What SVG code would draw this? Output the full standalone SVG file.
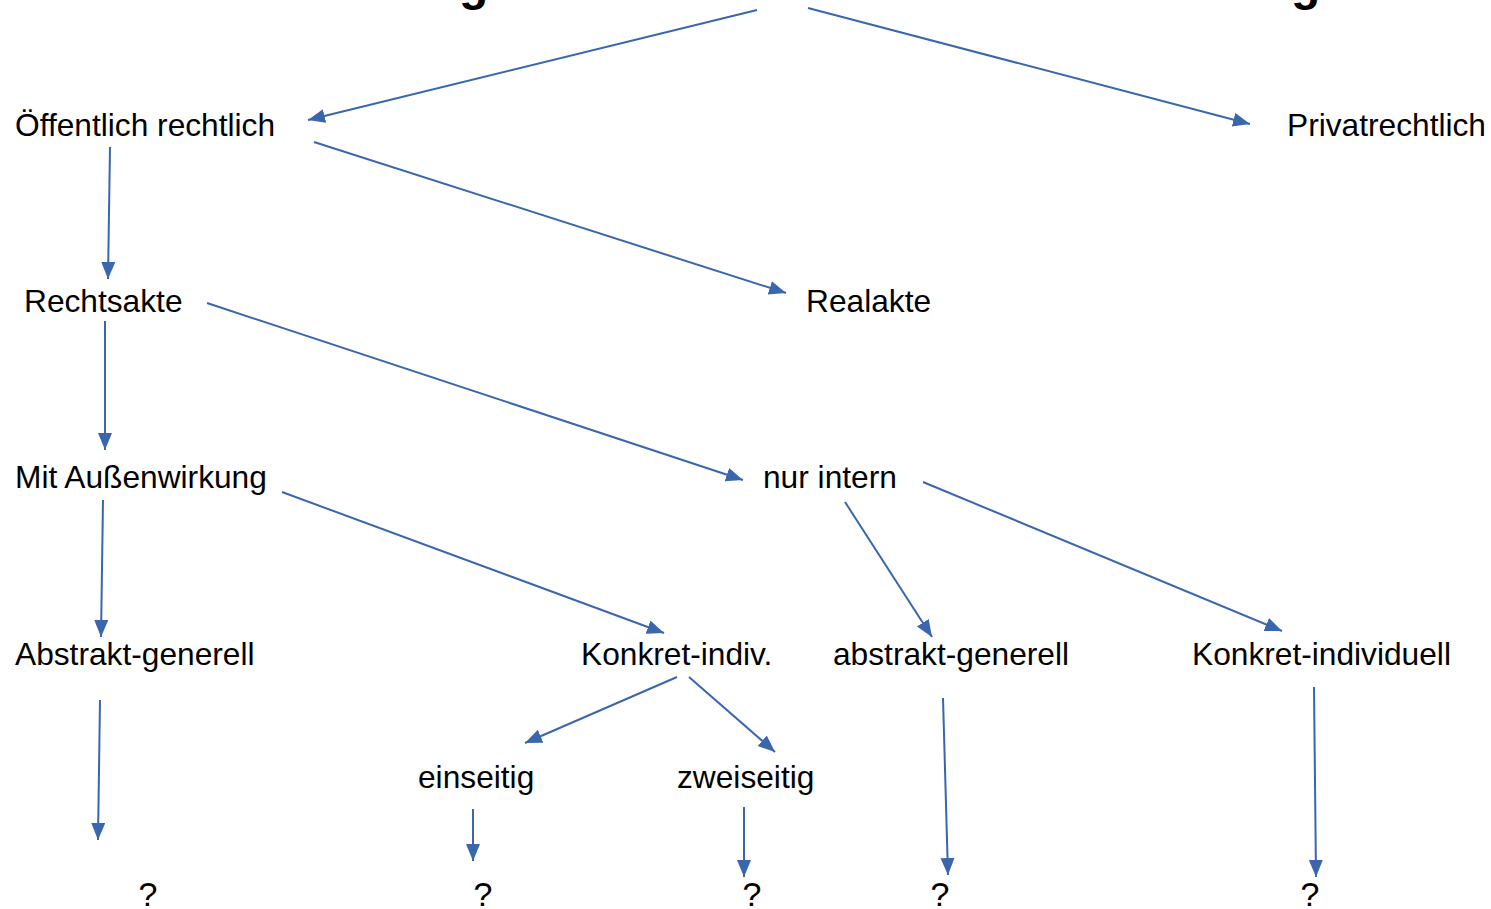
<svg xmlns="http://www.w3.org/2000/svg" width="1491" height="909" viewBox="0 0 1491 909">
<style>
.t{font-family:"Liberation Sans",Arial,sans-serif;font-size:31.7px;fill:#000}
.q{font-family:"Liberation Sans",Arial,sans-serif;font-size:34px;fill:#000}
.title{font-family:"Liberation Sans",Arial,sans-serif;font-size:48px;font-weight:bold;fill:#000}
.c line{stroke:#3A66AE;stroke-width:2;fill:none;marker-end:url(#ah)}
</style>
<defs>
<marker id="ah" markerUnits="userSpaceOnUse" markerWidth="20" markerHeight="16" refX="17" refY="7" orient="auto">
<path d="M0,0 L17,7 L0,14 Z" fill="#3A66AE"/>
</marker>
</defs>
<rect width="1491" height="909" fill="#fff"/>
<g id="title"><text class="title" x="267" y="0">Handlungsformen der öffentlichen Verwaltung</text></g>
<g id="n-oeffentlich"><text class="t" x="15" y="136">Öffentlich rechtlich</text></g>
<g id="n-privat"><text class="t" x="1287" y="136">Privatrechtlich</text></g>
<g id="n-rechtsakte"><text class="t" x="24" y="312">Rechtsakte</text></g>
<g id="n-realakte"><text class="t" x="806" y="312">Realakte</text></g>
<g id="n-aussen"><text class="t" x="15" y="488">Mit Außenwirkung</text></g>
<g id="n-intern"><text class="t" x="763" y="488">nur intern</text></g>
<g id="n-abstrakt1"><text class="t" x="15" y="665">Abstrakt-generell</text></g>
<g id="n-konkret1"><text class="t" x="581" y="665">Konkret-indiv.</text></g>
<g id="n-abstrakt2"><text class="t" x="833" y="665">abstrakt-generell</text></g>
<g id="n-konkret2"><text class="t" x="1192" y="665">Konkret-individuell</text></g>
<g id="n-einseitig"><text class="t" x="418" y="788">einseitig</text></g>
<g id="n-zweiseitig"><text class="t" x="677" y="788">zweiseitig</text></g>
<g id="q1"><text class="q" x="148" y="906" text-anchor="middle">?</text></g>
<g id="q2"><text class="q" x="483" y="906" text-anchor="middle">?</text></g>
<g id="q3"><text class="q" x="752" y="906" text-anchor="middle">?</text></g>
<g id="q4"><text class="q" x="940" y="906" text-anchor="middle">?</text></g>
<g id="q5"><text class="q" x="1310" y="906" text-anchor="middle">?</text></g>
<g id="connectors" class="c">
<line x1="757" y1="10" x2="308" y2="120"/>
<line x1="808" y1="8" x2="1250" y2="124"/>
<line x1="110" y1="147" x2="108" y2="279"/>
<line x1="314" y1="142" x2="786" y2="293"/>
<line x1="105" y1="321" x2="105" y2="450"/>
<line x1="207" y1="303" x2="743" y2="480"/>
<line x1="103" y1="500" x2="101" y2="637"/>
<line x1="282" y1="492" x2="664" y2="633"/>
<line x1="845" y1="502" x2="932" y2="637"/>
<line x1="923" y1="482" x2="1282" y2="631"/>
<line x1="100" y1="700" x2="98" y2="840"/>
<line x1="677" y1="677" x2="525" y2="743"/>
<line x1="689" y1="677" x2="775" y2="752"/>
<line x1="473" y1="809" x2="473" y2="861"/>
<line x1="744" y1="807" x2="744" y2="877"/>
<line x1="943" y1="698" x2="948" y2="875"/>
<line x1="1314" y1="687" x2="1316" y2="877"/>
</g>
</svg>
